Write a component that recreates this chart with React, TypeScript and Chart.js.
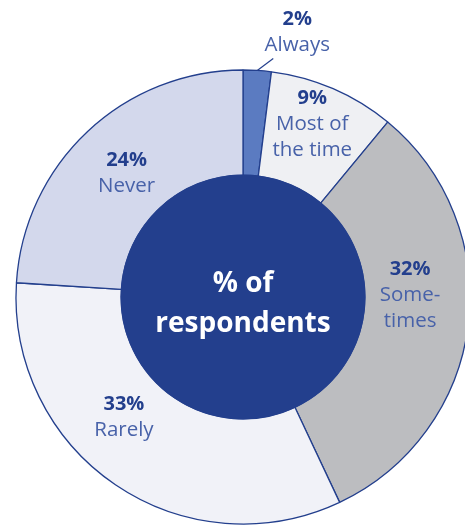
import React, { useEffect, useRef } from "react";
import { Chart, registerables } from "chart.js";
Chart.register(...registerables);

const categories = ["Always", "Most of the time", "Sometimes", "Rarely", "Never"];
const values = [2, 9, 32, 33, 24];
const labelLines = [["Always"], ["Most of", "the time"], ["Some-", "times"], ["Rarely"], ["Never"]];
const centerLines = ["% of", "respondents"];

const sliceColors = ["#5b7bc1", "#eff0f3", "#bcbdc0", "#f1f2f8", "#d3d8ec"];
const NAVY = "#233f8d";
const LABEL_BLUE = "#4862a9";
const FONT = "'Open Sans', sans-serif";
// label nudges (px) relative to ring-middle point of each slice
const nudges = [
  [0, 0],
  [0, -13],
  [-6, -24],
  [-21, -24],
  [3, 3],
];

const ringLabels = {
  id: "ringLabels",
  afterDatasetsDraw(chart: any) {
    const ctx = chart.ctx;
    const arcs = chart.getDatasetMeta(0).data;
    if (!arcs.length) return;
    const { x: cx, y: cy, innerRadius, outerRadius } = arcs[0].getProps(
      ["x", "y", "innerRadius", "outerRadius"],
      true
    );
    ctx.save();
    ctx.beginPath();
    ctx.arc(cx, cy, innerRadius + 0.5, 0, Math.PI * 2);
    ctx.fillStyle = NAVY;
    ctx.fill();

    ctx.fillStyle = "#ffffff";
    ctx.font = `700 28px ${FONT}`;
    ctx.textAlign = "center";
    ctx.textBaseline = "alphabetic";
    ctx.fillText(centerLines[0], cx, cy - 5);
    ctx.fillText(centerLines[1], cx, cy + 35);

    ctx.textBaseline = "middle";
    arcs.forEach((arc: any, i: number) => {
      const { startAngle, endAngle } = arc.getProps(["startAngle", "endAngle"], true);
      const mid = (startAngle + endAngle) / 2;
      const lines = [`${values[i]}%`, ...labelLines[i]];
      let ax: number;
      let ay: number;
      if (values[i] < 5) {
        const ox = cx + Math.cos(mid) * outerRadius;
        const oy = cy + Math.sin(mid) * outerRadius;
        const lx = ox + 16;
        const ly = oy - 12;
        ctx.beginPath();
        ctx.moveTo(ox, oy);
        ctx.lineTo(lx, ly);
        ctx.strokeStyle = NAVY;
        ctx.lineWidth = 1.2;
        ctx.stroke();
        ax = lx + 24;
        ay = ly - 26;
      } else {
        const r = (innerRadius + outerRadius) / 2;
        ax = cx + Math.cos(mid) * r + nudges[i][0];
        ay = cy + Math.sin(mid) * r + nudges[i][1];
      }
      const lh = 26;
      const n = lines.length;
      lines.forEach((t, j) => {
        const y = ay + (j - (n - 1) / 2) * lh;
        ctx.font = j === 0 ? `700 20px ${FONT}` : `400 20.5px ${FONT}`;
        ctx.fillStyle = j === 0 ? NAVY : LABEL_BLUE;
        ctx.fillText(t, ax, y);
      });
    });
    ctx.restore();
  },
};

export default function App() {
  const ref = useRef<HTMLCanvasElement>(null);
  useEffect(() => {
    if (!ref.current) return;
    const chart = new Chart(ref.current, {
      type: "doughnut",
      data: {
        labels: categories,
        datasets: [
          {
            data: values,
            backgroundColor: sliceColors,
            borderColor: NAVY,
            borderWidth: 1.3,
          },
        ],
      },
      options: {
        responsive: false,
        animation: false,
        radius: 227,
        cutout: "53.7%",
        rotation: 0,
        layout: { padding: 0 },
        plugins: {
          legend: { display: false },
          tooltip: { enabled: false },
        },
      } as any,
      plugins: [ringLabels],
    });
    return () => chart.destroy();
  }, []);
  return (
    <div
      style={{
        position: "absolute",
        left: 0,
        top: 0,
        width: 465,
        height: 525,
        overflow: "hidden",
        background: "#ffffff",
      }}
    >
      <canvas ref={ref} width={486} height={594} style={{ width: 486, height: 594 }} />
    </div>
  );
}
